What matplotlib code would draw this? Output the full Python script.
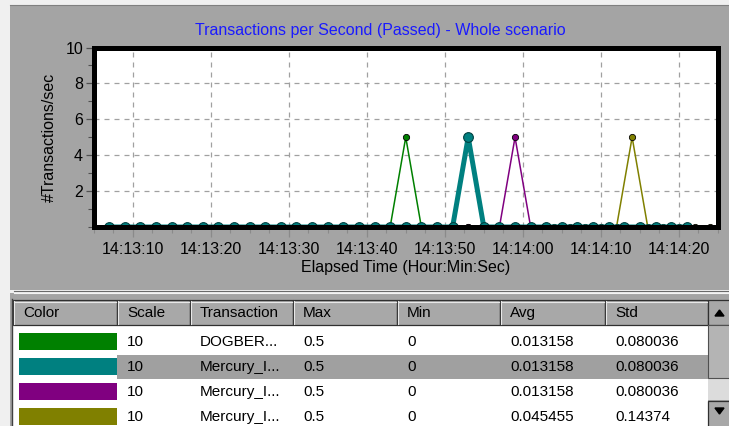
import numpy as np
import pandas as pd
import matplotlib
matplotlib.use('Agg')
import matplotlib.pyplot as plt
from matplotlib.patches import Rectangle, Polygon
from matplotlib.ticker import MultipleLocator

plt.rcParams['font.family'] = ['Liberation Sans', 'DejaVu Sans']

# transaction rates sampled every 2 seconds (raw values, plotted * scale)
dogbert = [0, 0, 0, 0, 0, 0, 0, 0, 0, 0, 0, 0, 0, 0, 0, 0, 0, 0, 0, 0.5,
           0, 0, 0, 0, 0, 0, 0, 0, 0, 0, 0, 0, 0, 0, 0, 0, 0, 0]
merc_a = [0, 0, 0, 0, 0, 0, 0, 0, 0, 0, 0, 0, 0, 0, 0, 0, 0, 0, 0, 0,
          0, 0, 0, 0.5, 0, 0, 0, 0, 0, 0, 0, 0, 0, 0, 0, 0, 0, 0]
merc_b = [0, 0, 0, 0, 0, 0, 0, 0, 0, 0, 0, 0, 0, 0, 0, 0, 0, 0, 0, 0,
          0, 0, 0, 0, 0, 0, 0.5, 0, 0, 0, 0, 0, 0, 0, 0, 0, 0, 0]
merc_c = [0, 0, 0, 0, 0, 0.5, 0, 0, 0, 0, 0]
start_times = ['14:13:07', '14:13:07', '14:13:07', '14:14:04']
step_sec = 2

series = [dogbert, merc_a, merc_b, merc_c]
colors = ['#008000', '#008080', '#800080', '#808000']
scales = [10, 10, 10, 10]
names = ['DOGBER...', 'Mercury_I...', 'Mercury_I...', 'Mercury_I...']
max_vals = ['0.5', '0.5', '0.5', '0.5']
min_vals = ['0', '0', '0', '0']
avg_vals = ['0.013158', '0.013158', '0.013158', '0.045455']
std_vals = ['0.080036', '0.080036', '0.080036', '0.14374']
selected = 1

tick_labels = ['14:13:10', '14:13:20', '14:13:30', '14:13:40',
               '14:13:50', '14:14:00', '14:14:10', '14:14:20']
x_range = ['14:13:05', '14:14:25']


def secs(s):
    return pd.to_timedelta(s).total_seconds()


W, H = 729, 426
fig = plt.figure(figsize=(W / 100, H / 100), dpi=100)
fig.patch.set_facecolor('#f0f0f0')

# window chrome + table, in pixel coordinates
bg = fig.add_axes([0, 0, 1, 1], zorder=-1)
bg.set_xlim(0, W)
bg.set_ylim(H, 0)
bg.axis('off')
bg.add_patch(Rectangle((10, 5), W - 10, 285, facecolor='#a4a4a4', edgecolor='none'))
bg.plot([10, W], [5, 5], color='#808080', lw=0.8)
bg.plot([14, W], [291, 291], color='#6a6a6a', lw=0.8)
bg.plot([14, W], [292.5, 292.5], color='#f4f4f4', lw=0.8)
bg.add_patch(Rectangle((10, 293), W - 10, H - 293, facecolor='#a4a4a4', edgecolor='none'))

# table body
bg.add_patch(Rectangle((13, 325), 695, H - 325, facecolor='white', edgecolor='none'))
bg.plot([12, 12], [299, H], color='#404040', lw=1)
bg.add_patch(Rectangle((117, 355), 591, 24, facecolor='#a0a0a0', edgecolor='none'))

col_edges = [13, 117, 190, 293, 397, 500, 605, 708]
headers = ['Color', 'Scale', 'Transaction', 'Max', 'Min', 'Avg', 'Std']
for i, h in enumerate(headers):
    x0, x1 = col_edges[i], col_edges[i + 1]
    bg.add_patch(Rectangle((x0, 300), x1 - x0, 25, facecolor='#a8a8a8',
                           edgecolor='#303030', lw=0.9))
    bg.plot([x0 + 1.5, x0 + 1.5], [301, 324], color='#e8e8e8', lw=0.8)
    bg.plot([x0 + 1.5, x1 - 1], [301.5, 301.5], color='#e8e8e8', lw=0.8)
    bg.text(x0 + 10, 313, h, fontsize=11, ha='left', va='center', color='black')

row_y = [342, 367, 392, 417]
for r in range(len(series)):
    y = row_y[r]
    bg.add_patch(Rectangle((19, y - 9), 98, 17, facecolor=colors[r], edgecolor='none'))
    cells = [str(scales[r]), names[r], max_vals[r], min_vals[r], avg_vals[r], std_vals[r]]
    for c, txt in enumerate(cells):
        bg.text(col_edges[c + 1] + 10, y, txt, fontsize=11, ha='left', va='center',
                color='black')

# scrollbar
bg.add_patch(Rectangle((708, 300), 25, 25, facecolor='#a8a8a8', edgecolor='#303030', lw=0.9))
bg.add_patch(Polygon([[715, 316], [724, 316], [719.5, 310]], closed=True, color='black'))
bg.add_patch(Rectangle((708, 325), 25, 75, facecolor='#dcdcdc', edgecolor='none'))
bg.add_patch(Rectangle((708, 325), 25, 53, facecolor='#b4b4b4', edgecolor='#505050', lw=0.8))
bg.add_patch(Rectangle((708, 401), 25, 30, facecolor='#a8a8a8', edgecolor='#303030', lw=0.9))
bg.add_patch(Polygon([[715, 408], [724, 408], [719.5, 414]], closed=True, color='black'))

# chart
ax = fig.add_axes([93.5 / W, 1 - 227 / H, (718 - 93.5) / W, (227 - 47.5) / H])
ax.set_facecolor('white')

for i, vals in enumerate(series):
    t = secs(start_times[i]) + step_sec * np.arange(len(vals))
    y = np.array(vals) * scales[i]
    if i == selected:
        continue
    ax.plot(t, y, color=colors[i], lw=1.1, marker='o', ms=4.5,
            mec='black', mew=0.6, zorder=2)

# highlighted transaction drawn last, thick
vals = series[selected]
t = secs(start_times[selected]) + step_sec * np.arange(len(vals))
ax.plot(t, np.array(vals) * scales[selected], color=colors[selected], lw=3.6,
        marker='o', ms=7, mec='#004040', mew=0.8, zorder=2.2)

ax.set_xlim(secs(x_range[0]), secs(x_range[1]))
ax.set_ylim(0, 10)
ax.set_xticks([secs(s) for s in tick_labels])
ax.set_xticklabels(tick_labels)
ax.set_yticks([2, 4, 6, 8, 10])
ax.yaxis.set_minor_locator(MultipleLocator(1))
ax.xaxis.set_minor_locator(MultipleLocator(2.5))

ax.grid(True, which='major', color='#a0a0a0', linestyle=(0, (4, 4)), linewidth=0.9)
for s in ax.spines.values():
    s.set_linewidth(3.6)
    s.set_color('black')
    s.set_zorder(3)

ax.tick_params(axis='x', which='major', direction='out', length=7, width=0.9,
               color='#8a8a8a', pad=4, labelsize=11.5)
ax.tick_params(axis='x', which='minor', direction='out', length=4, width=0.8,
               color='#8a8a8a')
ax.tick_params(axis='y', which='major', direction='out', length=6, width=0.9,
               color='#505050', pad=1.5, labelsize=11.5)
ax.tick_params(axis='y', which='minor', direction='out', length=4, width=0.8,
               color='#505050')

ax.set_xlabel('Elapsed Time (Hour:Min:Sec)', fontsize=11.5, labelpad=2)
ax.set_ylabel('#Transactions/sec', fontsize=11.5, labelpad=6)
ax.set_title('Transactions per Second (Passed) - Whole scenario', fontsize=11.5,
             color='#1a1aff', x=(380 - 93.5) / (718 - 93.5), pad=9)

fig.savefig('out.png', dpi=100, facecolor=fig.get_facecolor())
